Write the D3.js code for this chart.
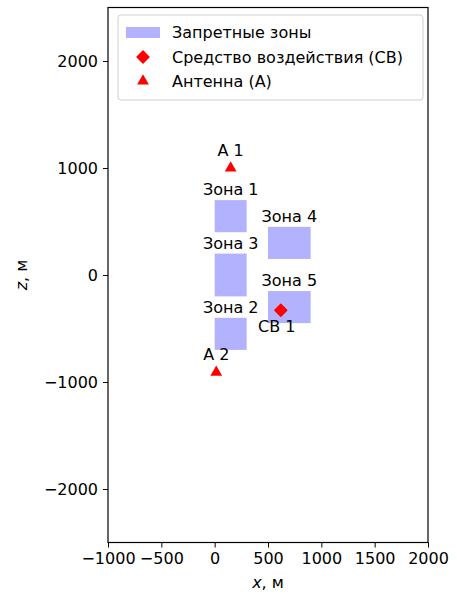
<!DOCTYPE html>
<html>
<head>
<meta charset="utf-8">
<script src="https://cdn.jsdelivr.net/npm/d3@7"></script>
<style>
  body { margin: 0; background: #fff; }
  svg { font-family: "DejaVu Sans", sans-serif; }
</style>
</head>
<body>
<svg width="457" height="595"></svg>
<script>
// zones: [x0, x1, z0, z1]
var zoneNames = ["Зона 1", "Зона 2", "Зона 3", "Зона 4", "Зона 5"];
var zoneX0 = [0, 0, 0, 500, 500];
var zoneX1 = [300, 300, 300, 900, 900];
var zoneZ0 = [400, -700, -200, 150, -450];
var zoneZ1 = [700, -400, 200, 450, -150];

var antNames = ["А 1", "А 2"];
var antX = [150, 15];
var antZ = [1000, -910];

var svNames = ["СВ 1"];
var svX = [620];
var svZ = [-330];

var xTicks = [-1000, -500, 0, 500, 1000, 1500, 2000];
var zTicks = [-2000, -1000, 0, 1000, 2000];

var legendLabels = ["Запретные зоны", "Средство воздействия (СВ)", "Антенна (А)"];

function main() {
  var svg = d3.select("svg");
  var left = 108, right = 428, top = 7.5, bottom = 542.5;
  var fs = "16px";
  var fmt = d3.format("d");

  var x = d3.scaleLinear().domain([-1000, 2000]).range([left, right]);
  var z = d3.scaleLinear().domain([-2500, 2500]).range([bottom, top]);

  // zones
  zoneNames.forEach(function (name, i) {
    svg.append("rect")
      .attr("x", x(zoneX0[i]))
      .attr("y", z(zoneZ1[i]))
      .attr("width", x(zoneX1[i]) - x(zoneX0[i]))
      .attr("height", z(zoneZ0[i]) - z(zoneZ1[i]))
      .attr("fill", "#0000ff")
      .attr("fill-opacity", 0.3);
    svg.append("text")
      .attr("x", x((zoneX0[i] + zoneX1[i]) / 2))
      .attr("y", z(zoneZ1[i]) - 5)
      .attr("text-anchor", "middle")
      .style("font-size", fs)
      .text(name);
  });

  var tri = d3.symbol().type(d3.symbolTriangle).size(60);
  antNames.forEach(function (name, i) {
    svg.append("path")
      .attr("d", tri())
      .attr("transform", "translate(" + x(antX[i]) + "," + z(antZ[i]) + ")")
      .attr("fill", "red");
    svg.append("text")
      .attr("x", x(antX[i]))
      .attr("y", z(antZ[i]) - 12)
      .attr("text-anchor", "middle")
      .style("font-size", fs)
      .text(name);
  });

  var dia = d3.symbol().type(d3.symbolSquare).size(70);
  svNames.forEach(function (name, i) {
    svg.append("path")
      .attr("d", dia())
      .attr("transform", "translate(" + x(svX[i]) + "," + z(svZ[i]) + ") rotate(45)")
      .attr("fill", "red")
      .attr("stroke", "red")
      .attr("stroke-width", 1.5)
      .attr("stroke-linejoin", "round");
    svg.append("text")
      .attr("x", x(svX[i]) - 4)
      .attr("y", z(svZ[i]) + 22)
      .attr("text-anchor", "middle")
      .style("font-size", fs)
      .text(name);
  });

  // axes
  var xAxis = svg.append("g")
    .attr("transform", "translate(0," + bottom + ")")
    .call(d3.axisBottom(x).tickValues(xTicks).tickFormat(fmt).tickSizeInner(5).tickSizeOuter(0).tickPadding(5));
  var zAxis = svg.append("g")
    .attr("transform", "translate(" + left + ",0)")
    .call(d3.axisLeft(z).tickValues(zTicks).tickFormat(fmt).tickSizeInner(5).tickSizeOuter(0).tickPadding(5));
  [xAxis, zAxis].forEach(function (a) {
    a.select(".domain").remove();
    a.selectAll("text").style("font-size", fs).attr("fill", "#000")
      .style("font-family", "DejaVu Sans, sans-serif");
    a.selectAll("line").attr("stroke", "#000").attr("stroke-width", 1);
  });

  svg.append("rect")
    .attr("x", left).attr("y", top)
    .attr("width", right - left).attr("height", bottom - top)
    .attr("fill", "none").attr("stroke", "#000").attr("stroke-width", 1.2);

  // axis titles
  var xl = svg.append("text")
    .attr("x", (left + right) / 2).attr("y", 588)
    .attr("text-anchor", "middle").style("font-size", fs);
  xl.append("tspan").style("font-style", "italic").text("x");
  xl.append("tspan").text(", м");

  var zl = svg.append("text")
    .attr("transform", "translate(27," + z(0) + ") rotate(-90)")
    .attr("text-anchor", "middle").style("font-size", fs);
  zl.append("tspan").style("font-style", "italic").text("z");
  zl.append("tspan").text(", м");

  // legend
  var lg = svg.append("g");
  lg.append("rect")
    .attr("x", 118).attr("y", 15).attr("width", 305).attr("height", 85)
    .attr("rx", 3).attr("fill", "#fff").attr("fill-opacity", 0.8)
    .attr("stroke", "#d0d0d0").attr("stroke-width", 1);
  var rowY = [32, 57, 81];
  lg.append("rect").attr("x", 126).attr("y", rowY[0] - 5).attr("width", 34).attr("height", 11)
    .attr("fill", "#0000ff").attr("fill-opacity", 0.3);
  lg.append("path").attr("d", dia()).attr("fill", "red").attr("stroke", "red")
    .attr("stroke-width", 1.5).attr("stroke-linejoin", "round")
    .attr("transform", "translate(143," + rowY[1] + ") rotate(45)");
  lg.append("path").attr("d", tri()).attr("fill", "red")
    .attr("transform", "translate(143," + rowY[2] + ")");
  legendLabels.forEach(function (t, i) {
    lg.append("text").attr("x", 172).attr("y", rowY[i]).attr("dy", "0.36em")
      .style("font-size", fs).text(t);
  });
}
main();
</script>
</body>
</html>
